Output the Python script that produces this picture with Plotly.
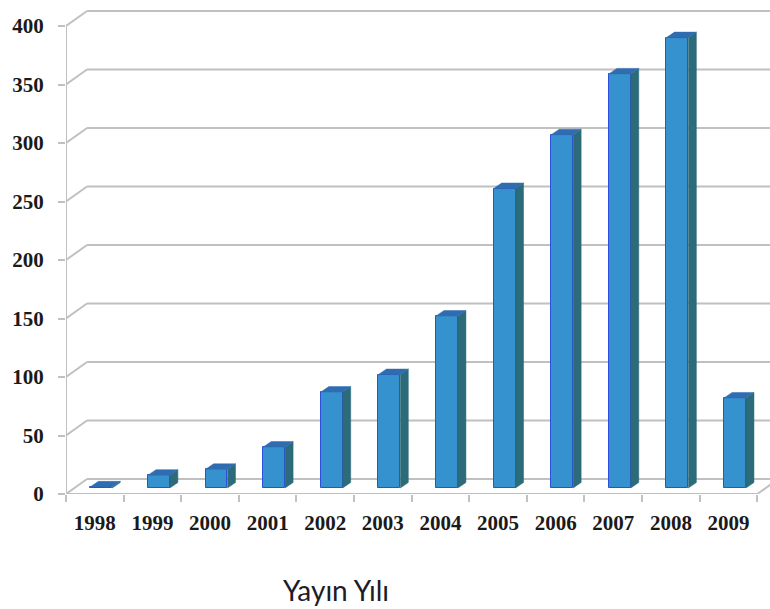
import plotly.graph_objects as go

# Publications per year
years = ["1998", "1999", "2000", "2001", "2002", "2003",
         "2004", "2005", "2006", "2007", "2008", "2009"]
counts = [1, 11, 16, 35, 82, 97, 147, 256, 302, 354, 385, 77]
y_ticks = [0, 50, 100, 150, 200, 250, 300, 350, 400]

# Oblique "3D" projection parameters (x in category units, y in value units)
WALL_DX, WALL_DY = 0.365, 12.8      # depth of the chart box
BAR_DX, BAR_DY = 0.113, 5.1         # front plane of the bars
BAR_W = 0.38                        # bar width
SIDE_DX, SIDE_DY = 0.139, 4.7       # bar depth
X_MIN, X_MAX = -0.5, 11.72
Y_MAX = 413.7

FRONT = "#3592cf"
EDGE = "#2f4fd8"
SIDE = "#2b6b7a"
TOP = "#2f6db0"
GRID = "#c0c0c0"

fig = go.Figure()

# Front faces
xs = [i + BAR_DX for i in range(len(years))]
fig.add_trace(go.Bar(
    x=xs, y=counts, base=BAR_DY, width=BAR_W,
    marker=dict(color=FRONT, line=dict(color=EDGE, width=1)),
    hoverinfo="skip", showlegend=False,
))

# Side and top faces
for i, v in enumerate(counts):
    x0 = xs[i] - BAR_W / 2
    x1 = xs[i] + BAR_W / 2
    b = BAR_DY
    t = BAR_DY + v
    fig.add_trace(go.Scatter(
        x=[x1, x1 + SIDE_DX, x1 + SIDE_DX, x1, x1],
        y=[b, b + SIDE_DY, t + SIDE_DY, t, b],
        fill="toself", fillcolor=SIDE, mode="lines",
        line=dict(color=SIDE, width=0.5),
        hoverinfo="skip", showlegend=False,
    ))
    fig.add_trace(go.Scatter(
        x=[x0, x1, x1 + SIDE_DX, x0 + SIDE_DX, x0],
        y=[t, t, t + SIDE_DY, t + SIDE_DY, t],
        fill="toself", fillcolor=TOP, mode="lines",
        line=dict(color=TOP, width=0.5),
        hoverinfo="skip", showlegend=False,
    ))

shapes = []
gl = dict(color=GRID, width=2)
for v in y_ticks:
    # back wall gridline
    shapes.append(dict(type="line", xref="x", yref="y", layer="below",
                       x0=X_MIN + WALL_DX, y0=v + WALL_DY, x1=X_MAX + 1, y1=v + WALL_DY,
                       line=gl))
    # side wall diagonal
    shapes.append(dict(type="line", xref="x", yref="y", layer="below",
                       x0=X_MIN, y0=v, x1=X_MIN + WALL_DX, y1=v + WALL_DY, line=gl))
# value axis line
shapes.append(dict(type="line", xref="x", yref="y", layer="below",
                   x0=X_MIN, y0=0, x1=X_MIN, y1=400, line=gl))
# floor front edge and right edge
n = len(years)
shapes.append(dict(type="line", xref="x", yref="y", layer="below",
                   x0=X_MIN, y0=0, x1=n - 0.5, y1=0, line=gl))
shapes.append(dict(type="line", xref="x", yref="y", layer="below",
                   x0=n - 0.5, y0=0, x1=n - 0.5 + WALL_DX, y1=WALL_DY, line=gl))

tick_font = dict(family="Liberation Serif", size=21, color="#1a1a1a")

fig.update_layout(
    width=770, height=609,
    margin=dict(l=66, r=0, t=10, b=115),
    paper_bgcolor="white", plot_bgcolor="white",
    shapes=shapes,
    bargap=0,
    xaxis=dict(
        range=[X_MIN, X_MAX], showgrid=False, zeroline=False, showline=False,
        tickmode="array", tickvals=list(range(n)), ticktext=[f"<b>{y}</b>" for y in years],
        ticks="outside", ticklen=10, tickcolor="rgba(0,0,0,0)",
        tickfont=tick_font,
        minor=dict(tickmode="array", tickvals=[k - 0.5 for k in range(n + 1)],
                   ticks="outside", ticklen=7, tickcolor=GRID, tickwidth=2, showgrid=False),
    ),
    yaxis=dict(
        range=[0, Y_MAX], showgrid=False, zeroline=False, showline=False,
        tickmode="array", tickvals=y_ticks, ticktext=[f"<b>{v}</b>" for v in y_ticks],
        ticks="outside", ticklen=7, tickcolor=GRID, tickwidth=2,
        ticklabelstandoff=10, tickfont=tick_font,
    ),
    annotations=[dict(
        text="Yayın Yılı", xref="paper", yref="paper", x=0.383, y=-0.199,
        xanchor="center", yanchor="middle", showarrow=False,
        font=dict(family="Lato", size=28, color="#1c1c28"),
    )],
)

fig.write_html("out.html")
